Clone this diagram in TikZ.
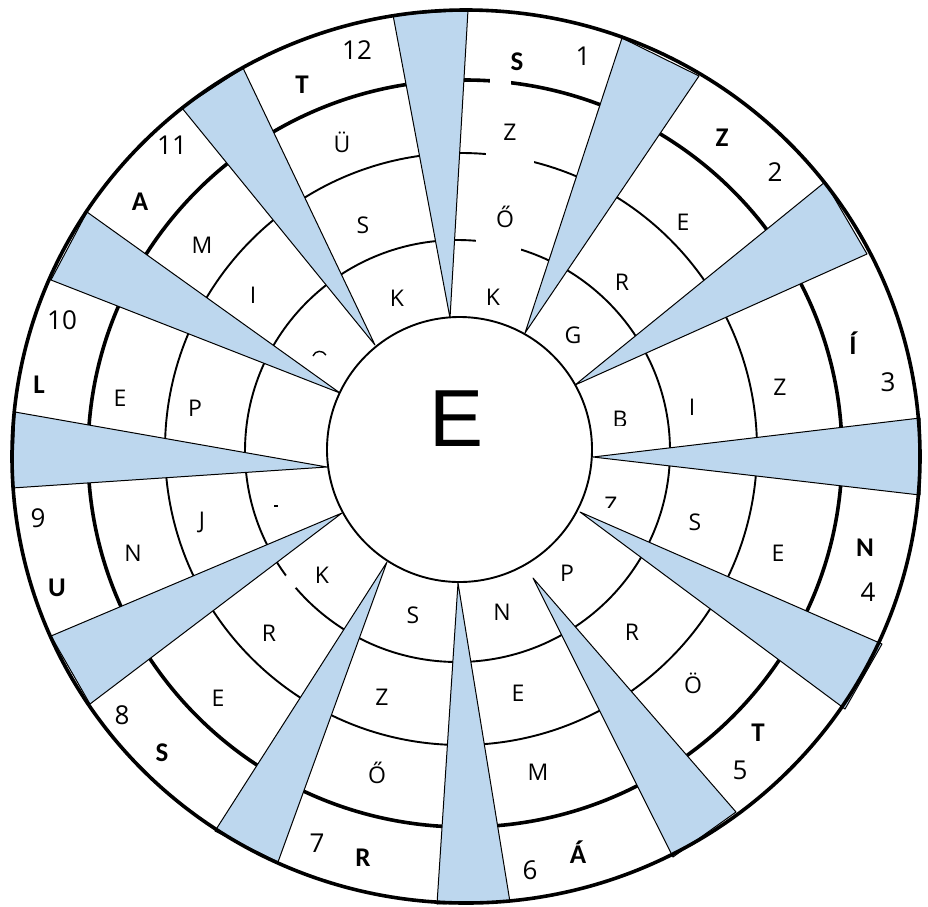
\documentclass[tikz,border=0pt]{standalone}
\usepackage{fontspec}
\setmainfont{Open Sans}
\newfontfamily\keyfont{Carlito}
\newfontfamily\hubfont{Liberation Sans}
\usepackage{xcolor}
\definecolor{wedgeBlue}{HTML}{BDD7EE}
\definecolor{wheelInk}{HTML}{000000}
\tikzset{
  ring/.style      = {line width=1.9pt, color=wheelInk},
  ringthick/.style = {line width=3.6pt, color=wheelInk},
  rim/.style       = {line width=3.6pt, color=wheelInk},
  wedge/.style     = {fill=wedgeBlue, draw=wheelInk, line width=1pt},
  gap/.style       = {fill=white},
  cell/.style      = {font=\fontsize{23}{26}\selectfont, inner sep=0},
  key/.style       = {font=\keyfont\bfseries\fontsize{27}{30}\selectfont, inner sep=0},
  num/.style       = {font=\fontsize{26}{28}\selectfont, inner sep=0},
  hub/.style       = {font=\hubfont\fontsize{81}{90}\selectfont, inner sep=0},
}
\begin{document}
\begin{tikzpicture}[x=1pt, y=-1pt, line join=round]

% canvas in pixel units, y pointing down
\useasboundingbox (0,0) rectangle (928,906);
\fill[white] (0,0) rectangle (928,906);

% --- rings ---
\draw[ring]      (457.5,451) ellipse [x radius=212.5, y radius=211];
\draw[ring]      (461,449)   ellipse [x radius=296, y radius=296];
\draw[ringthick] (465,453.5) ellipse [x radius=377, y radius=373.5];

% broken arcs in sector 1 and 8
\fill[gap] (490,70) rectangle (511,96);
\fill[gap] (486,143) rectangle (534,173);
\fill[gap] (476,231) rectangle (521,259);
\draw[white, line width=4.5pt] (287,575) -- (295,588);

% --- blue wedges: apex / base / base ---
\foreach \ax/\ay/\bx/\by/\cx/\cy [count=\i] in {
    450/318/393/15/468/10,
    525/333/622/38/699/76,
    575/385/825/182/867/254,
    593/457/920/418/920/495,
    580/512/882/644/845/709,
    533/578/736/812/673/857,
    458/583/510/902/437/904,
    387/562/278/862/215/831,
    342/513/90/704/51/636,
    327/467/12/488/15/412,
    340/393/51/280/87/212,
    375/345/182/108/243/68}
{
  \filldraw[wedge] (\ax,\ay) coordinate (w\i) -- (\bx,\by) -- (\cx,\cy) -- cycle;
}

% --- outer rim and hub ---
\draw[rim] (466,456.5) ellipse [x radius=454, y radius=446.5];
\filldraw[fill=white, line width=1.9pt] (459.5,449.5) circle [radius=132.5];
\node[hub] (hub) at (457,419) {E};

% --- letters in the rings ---
\foreach \x/\y/\t [count=\i] in {
    493/297/K, 505/217/Ő, 510/132/Z,
    573/335/G, 622/282/R, 683/222/E,
    692/407/I, 780/387/Z,
    695/522/S, 778/553/E,
    567/573/P, 632/632/R, 693/683/Ö,
    502/612/N, 518/693/E, 538/772/M,
    413/615/S, 382/697/Z, 377/773/Ő,
    322/575/K, 269/633/R, 218/698/E,
    202/522/J, 133/553/N,
    195/408/P, 120/398/E,
    253/295/I, 202/245/M,
    397/298/K, 363/225/S, 342/142/Ü}
{
  \node[cell] (c\i) at (\x,\y) {\t};
}

% half hidden letters
\begin{scope}
  \clip (600,400) rectangle (640,425);
  \node[cell] (cB) at (620,419.5) {B};
\end{scope}
\begin{scope}
  \clip (595,490) rectangle (625,507.5);
  \node[cell] (cZ) at (611,505) {Z};
\end{scope}
\draw[line width=1.4pt] (313,356) .. controls (315,350) and (323,350) .. (326,355);
\draw[line width=1.4pt] (274,506) -- (278,506);

% --- outer ring: key letters and numbers ---
\foreach \x/\y/\t [count=\i] in {
    517/62/S, 722/138/Z, 853/343/Í, 865/548/N, 758/733/T, 578/852/Á,
    363/858/R, 162/753/S, 57/588/U, 39/385/L, 140/202/A, 302/85/T}
{
  \node[key] (k\i) at (\x,\y) {\t};
}
\foreach \x/\y/\t in {
    583/56/1, 775/172/2, 888/382/3, 868/592/4, 740/770/5, 530/870/6,
    317/843/7, 122/715/8, 38/518/9, 62/320/10, 172/145/11, 357/50/12}
{
  \node[num] (n\t) at (\x,\y) {\t};
}

\end{tikzpicture}
\end{document}
